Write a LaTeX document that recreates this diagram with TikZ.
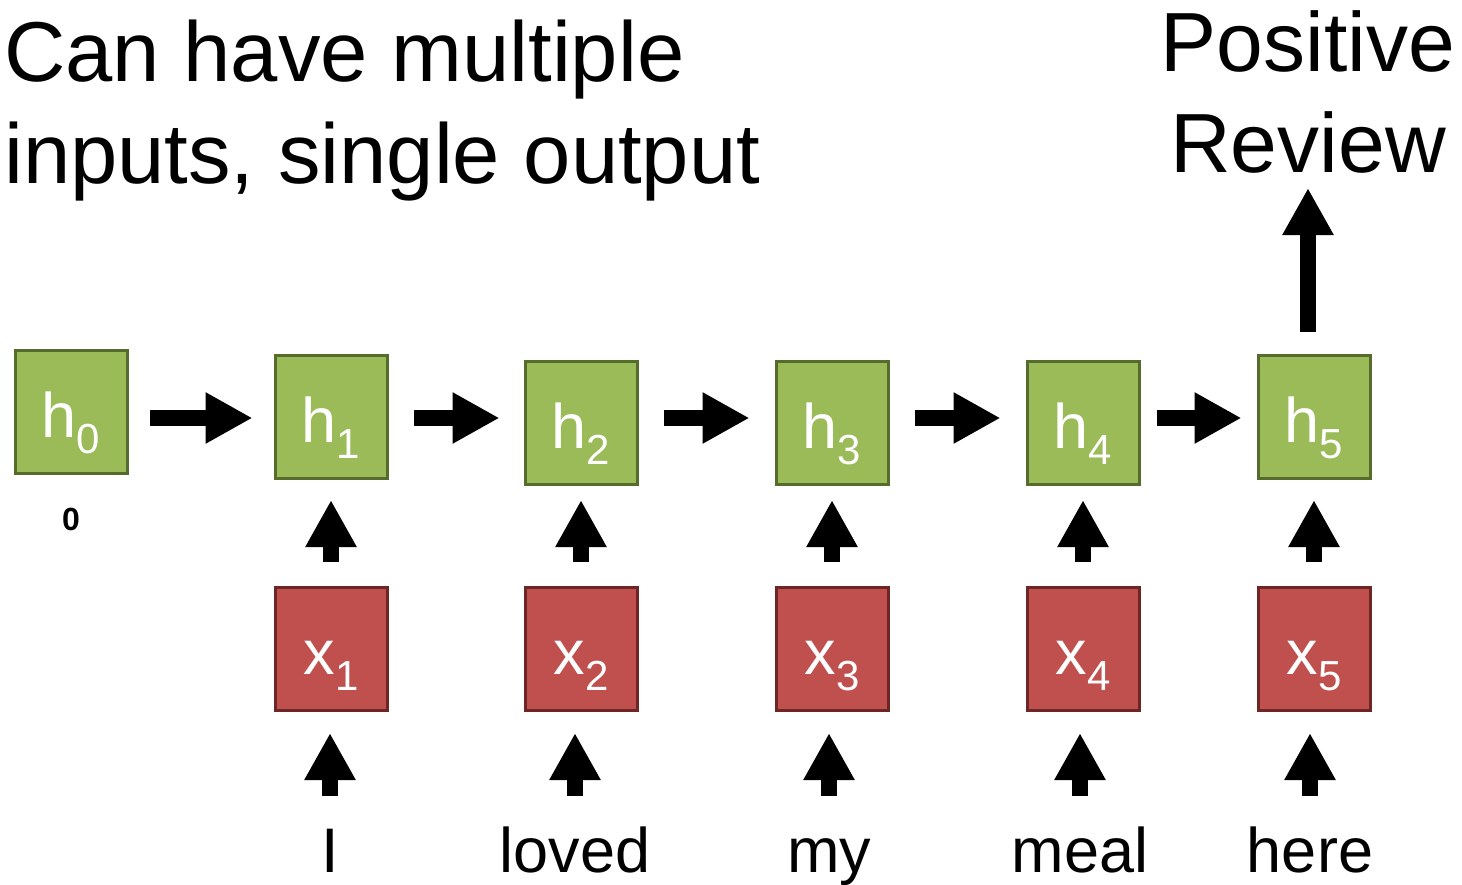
\documentclass[tikz,border=0pt]{standalone}
\usepackage{fontspec}
\setmainfont{Liberation Sans}
\usepackage{tikz}
\usetikzlibrary{arrows.meta}
\definecolor{vertfond}{RGB}{155,187,89}
\definecolor{vertbord}{RGB}{86,108,44}
\definecolor{rougefond}{RGB}{192,80,77}
\definecolor{rougebord}{RGB}{110,38,36}
\newcommand{\indice}[2]{#1\raisebox{-16pt}{\fontsize{42}{42}\selectfont #2}}
\tikzset{
  boite/.style={draw, line width=3pt, minimum width=112pt, minimum height=123pt,
    inner sep=0pt, text=white, font=\fontsize{63}{63}\selectfont,
    text height=50pt, text depth=0pt},
  etat/.style={boite, fill=vertfond, draw=vertbord},
  entree/.style={boite, fill=rougefond, draw=rougebord},
  mot/.style={inner sep=0pt, anchor=base, font=\fontsize{63}{63}\selectfont,
    text height=46pt, text depth=13pt},
  fleche/.style={line width=16pt, -{Triangle[width=48pt,length=47pt]}},
}

\begin{document}
\begin{tikzpicture}[x=1pt,y=-1pt]
\useasboundingbox (0,0) rectangle (1462,885);
% titres
\node[anchor=base west, align=left, inner sep=0pt, font=\fontsize{85}{102}\selectfont] (titre) at (4,184) {Can have multiple\\inputs, single output};
\node[anchor=base, align=center, inner sep=0pt, font=\fontsize{84}{101}\selectfont] (sortie) at (1308,173) {Positive\\Review};
% etats caches
\node[etat] (h0) at (71,412) {\indice{h}{0}};
\node[etat] (h1) at (331,417) {\indice{h}{1}};
\node[etat] (h2) at (581,423) {\indice{h}{2}};
\node[etat] (h3) at (832,423) {\indice{h}{3}};
\node[etat] (h4) at (1083,423) {\indice{h}{4}};
\node[etat] (h5) at (1314,417) {\indice{h}{5}};
\node[anchor=base, inner sep=0pt, font=\bfseries\fontsize{32}{32}\selectfont] (zero) at (71,530) {0};
% entrees
\node[entree] (x1) at (331,649) {\indice{x}{1}};
\node[entree] (x2) at (581,649) {\indice{x}{2}};
\node[entree] (x3) at (832,649) {\indice{x}{3}};
\node[entree] (x4) at (1083,649) {\indice{x}{4}};
\node[entree] (x5) at (1314,649) {\indice{x}{5}};
% mots
\node[mot] (m1) at (330,872) {I};
\node[mot] (m2) at (575,872) {loved};
\node[mot] (m3) at (829,872) {my};
\node[mot] (m4) at (1080,872) {meal};
\node[mot] (m5) at (1310,872) {here};
% lignes des fleches
\coordinate (ligneh) at (0,418);
\coordinate (pointe) at (0,500);
% fleches horizontales
\draw[fleche, shorten <=21pt, shorten >=21pt] (h0.east |- ligneh) -- (h1.west |- ligneh);
\draw[fleche, shorten <=25pt, shorten >=24pt] (h1.east |- ligneh) -- (h2.west |- ligneh);
\draw[fleche, shorten <=25pt, shorten >=25pt] (h2.east |- ligneh) -- (h3.west |- ligneh);
\draw[fleche, shorten <=25pt, shorten >=25pt] (h3.east |- ligneh) -- (h4.west |- ligneh);
\draw[fleche, shorten <=16pt, shorten >=15pt] (h4.east |- ligneh) -- (h5.west |- ligneh);
% x vers h
\draw[fleche, shorten <=24pt] (x1.north) -- (x1.north |- pointe);
\draw[fleche, shorten <=24pt] (x2.north) -- (x2.north |- pointe);
\draw[fleche, shorten <=24pt] (x3.north) -- (x3.north |- pointe);
\draw[fleche, shorten <=24pt] (x4.north) -- (x4.north |- pointe);
\draw[fleche, shorten <=24pt] (x5.north) -- (x5.north |- pointe);
% mots vers x
\draw[fleche, shorten <=30pt, shorten >=21pt] (m1.north) -- (m1.north |- x1.south);
\draw[fleche, shorten <=30pt, shorten >=21pt] (m2.north) -- (m2.north |- x2.south);
\draw[fleche, shorten <=30pt, shorten >=21pt] (m3.north) -- (m3.north |- x3.south);
\draw[fleche, shorten <=30pt, shorten >=21pt] (m4.north) -- (m4.north |- x4.south);
\draw[fleche, shorten <=30pt, shorten >=21pt] (m5.north) -- (m5.north |- x5.south);
% sortie
\draw[fleche, shorten <=22pt, shorten >=14pt] (h5.north -| sortie) -- (sortie.south);
\end{tikzpicture}
\end{document}
